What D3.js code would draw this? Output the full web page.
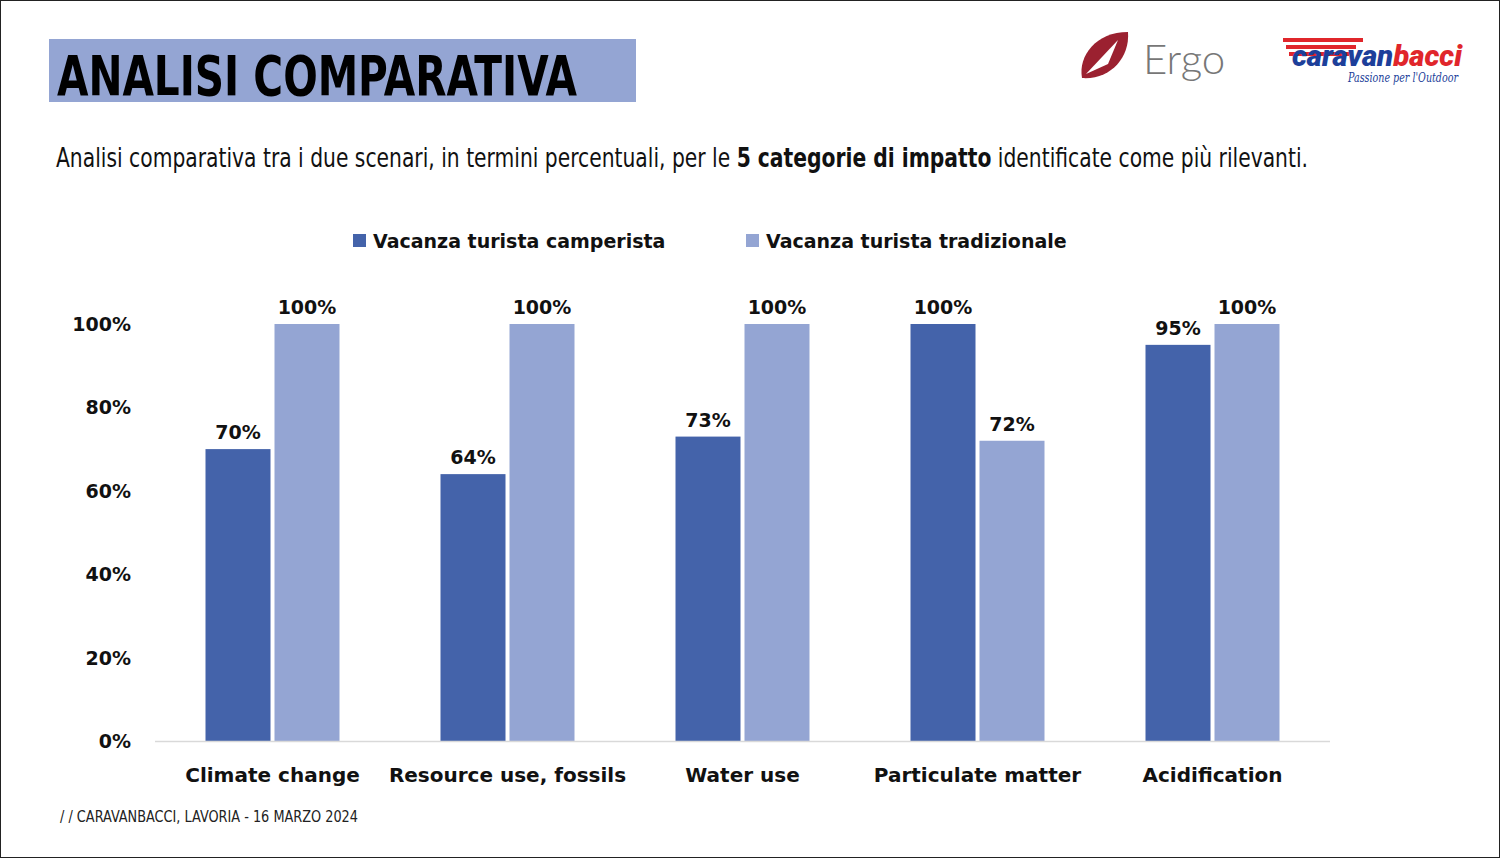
<!DOCTYPE html>
<html><head><meta charset="utf-8">
<script src="https://cdn.jsdelivr.net/npm/d3@7"></script>
<style>
body{margin:0;background:#fff;}
svg{display:block;}
</style></head><body>
<svg id="chart" width="1500" height="858"></svg>
<script>
const categories = ['Climate change', 'Resource use, fossils', 'Water use', 'Particulate matter', 'Acidification'];
const camperista = [70, 64, 73, 100, 95];
const tradizionale = [100, 100, 100, 72, 100];
const seriesNames = ['Vacanza turista camperista', 'Vacanza turista tradizionale'];
const colors = ['#4463aa', '#94a5d3'];
const yTicks = [0, 20, 40, 60, 80, 100];

const svg = d3.select('#chart');
const narrow = '"DejaVu Sans Condensed", "Liberation Sans Narrow", sans-serif';
const bold = '"DejaVu Sans", Verdana, sans-serif';

svg.append('rect').attr('x', 0.5).attr('y', 0.5).attr('width', 1499).attr('height', 857)
    .attr('fill', '#fff').attr('stroke', '#222');

// Title
svg.append('rect').attr('x', 49).attr('y', 39).attr('width', 587).attr('height', 63).attr('fill', '#94a5d3');
svg.append('text').attr('x', 57).attr('y', 95).attr('font-family', narrow).attr('font-weight', 700)
    .attr('font-size', 56).attr('fill', '#000')
    .attr('textLength', 520).attr('lengthAdjust', 'spacingAndGlyphs').text('ANALISI COMPARATIVA');

// Subtitle
const sub = svg.append('text').attr('x', 56).attr('y', 167).attr('font-family', narrow)
    .attr('font-size', 27).attr('fill', '#111')
    .attr('textLength', 1252).attr('lengthAdjust', 'spacingAndGlyphs');
sub.append('tspan').text('Analisi comparativa tra i due scenari, in termini percentuali, per le ');
sub.append('tspan').attr('font-weight', 700).text('5 categorie di impatto');
sub.append('tspan').text(' identificate come più rilevanti.');

// Logos (text)
const leaf = svg.append('g').attr('transform', 'translate(1104,56)');
leaf.append('path').attr('d', 'M-22,22 C-26,0 -8,-24 24,-24 C26,2 6,24 -22,22 Z').attr('fill', '#9b2130');
leaf.append('path').attr('d', 'M-18,18 L14,-16 L4,8 Z').attr('fill', '#fff');
svg.append('text').attr('x', 1143).attr('y', 74).attr('font-family', 'Lato, sans-serif').attr('font-weight', 300)
    .attr('font-size', 42).attr('fill', '#777').text('Ergo');
[0, 7, 14].forEach((o, i) => svg.append('rect').attr('x', 1283 + i * 3).attr('y', 38 + o)
    .attr('width', 80 - i * 10).attr('height', 4).attr('fill', '#e0262b'));
const cb = svg.append('text').attr('x', 1292).attr('y', 66).attr('font-family', 'Roboto, sans-serif')
    .attr('font-style', 'italic').attr('font-weight', 900).attr('font-size', 29)
    .attr('textLength', 170).attr('lengthAdjust', 'spacingAndGlyphs');
cb.append('tspan').attr('fill', '#1d3f9a').text('caravan');
cb.append('tspan').attr('fill', '#e0262b').text('bacci');
svg.append('text').attr('x', 1348).attr('y', 82).attr('font-family', 'DejaVu Serif, serif').attr('font-style', 'italic')
    .attr('font-size', 13).attr('fill', '#1d3f9a')
    .attr('textLength', 110).attr('lengthAdjust', 'spacingAndGlyphs').text('Passione per l\'Outdoor');

// Legend
const legendItems = [{ x: 353 }, { x: 746 }];
legendItems.forEach((l, i) => {
    svg.append('rect').attr('x', l.x).attr('y', 234).attr('width', 13).attr('height', 13).attr('fill', colors[i]);
    svg.append('text').attr('x', l.x + 20).attr('y', 248).attr('font-family', bold).attr('font-weight', 700)
        .attr('font-size', 19).attr('fill', '#111').text(seriesNames[i]);
});

// Scales
const x = d3.scaleBand().domain(categories).range([155, 1330]);
const y = d3.scaleLinear().domain([0, 100]).range([741, 324]);
const barW = 65, gap = 4;

// Y axis labels
svg.append('g').selectAll('text').data(yTicks).enter().append('text')
    .attr('x', 131).attr('y', d => y(d) + 7).attr('text-anchor', 'end')
    .attr('font-family', bold).attr('font-weight', 700).attr('font-size', 19).attr('fill', '#111')
    .text(d => d + '%');

// Bars
[camperista, tradizionale].forEach((vals, s) => {
    const g = svg.append('g');
    g.selectAll('rect').data(categories).enter().append('rect')
        .attr('x', (d, i) => x(d) + x.bandwidth() / 2 + (s === 0 ? -barW - gap / 2 : gap / 2))
        .attr('y', (d, i) => y(vals[i]))
        .attr('width', barW)
        .attr('height', (d, i) => y(0) - y(vals[i]))
        .attr('fill', colors[s]);
    g.selectAll('text').data(categories).enter().append('text')
        .attr('x', (d, i) => x(d) + x.bandwidth() / 2 + (s === 0 ? -barW / 2 - gap / 2 : barW / 2 + gap / 2))
        .attr('y', (d, i) => y(vals[i]) - 10)
        .attr('text-anchor', 'middle').attr('font-family', bold).attr('font-weight', 700)
        .attr('font-size', 19).attr('fill', '#111').text((d, i) => vals[i] + '%');
});

// X axis
svg.append('line').attr('x1', 155).attr('x2', 1330).attr('y1', 741.5).attr('y2', 741.5)
    .attr('stroke', '#d9d9d9').attr('stroke-width', 1.5);
svg.append('g').selectAll('text').data(categories).enter().append('text')
    .attr('x', d => x(d) + x.bandwidth() / 2).attr('y', 782).attr('text-anchor', 'middle')
    .attr('font-family', bold).attr('font-weight', 700).attr('font-size', 20).attr('fill', '#111')
    .text(d => d);

// Footer
svg.append('text').attr('x', 60).attr('y', 822).attr('font-family', narrow).attr('font-size', 16)
    .attr('fill', '#222').attr('textLength', 298).attr('lengthAdjust', 'spacingAndGlyphs')
    .text('/ /  CARAVANBACCI, LAVORIA - 16 MARZO 2024');
</script>
</body></html>
